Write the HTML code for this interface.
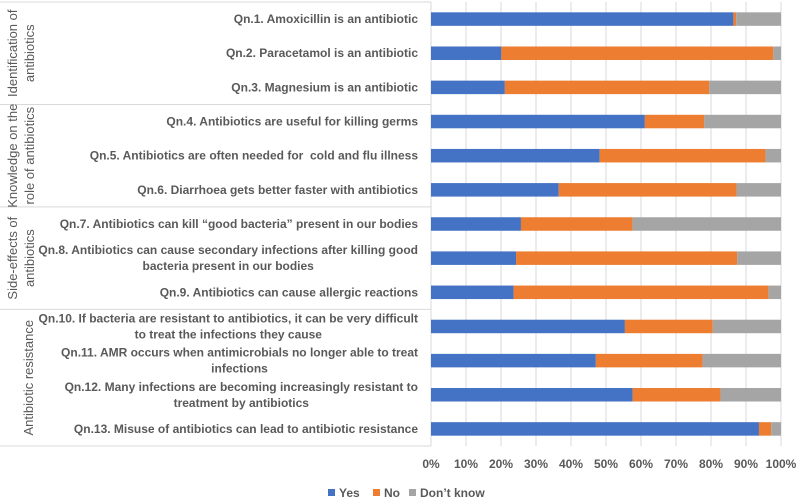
<!DOCTYPE html>
<html><head><meta charset="utf-8"><style>
body{margin:0;background:#fff;}
svg{display:block;font-family:"Liberation Sans",sans-serif;}
text{white-space:pre;}
</style></head><body>
<svg id="chart" width="798" height="499"></svg>
<script>
const categories=["Qn.1. Amoxicillin is an antibiotic","Qn.2. Paracetamol is an antibiotic","Qn.3. Magnesium is an antibiotic","Qn.4. Antibiotics are useful for killing germs","Qn.5. Antibiotics are often needed for  cold and flu illness","Qn.6. Diarrhoea gets better faster with antibiotics","Qn.7. Antibiotics can kill “good bacteria” present in our bodies","Qn.8. Antibiotics can cause secondary infections after killing good|bacteria present in our bodies","Qn.9. Antibiotics can cause allergic reactions","Qn.10. If bacteria are resistant to antibiotics, it can be very difficult|to treat the infections they cause","Qn.11. AMR occurs when antimicrobials no longer able to treat|infections","Qn.12. Many infections are becoming increasingly resistant to|treatment by antibiotics","Qn.13. Misuse of antibiotics can lead to antibiotic resistance"];
const yesVals=[86.4,20.1,21.1,61.1,48.2,36.5,25.7,24.3,23.6,55.4,47.1,57.6,93.7];
const noVals=[0.8,77.7,58.4,17.0,47.4,50.8,31.9,63.2,72.8,25.1,30.5,25.1,3.5];
const dkVals=yesVals.map((y,i)=>100-y-noVals[i]);
const ticks=[0,10,20,30,40,50,60,70,80,90,100];
const groups=[["Identification of","antibiotics"],["Knowledge on the","role of antibiotics"],["Side-effects of","antibiotics"],["Antibiotic resistance"]];
const groupSizes=[3,3,3,4];
const svg=document.getElementById('chart');
const NS="http://www.w3.org/2000/svg";
const x0=431,x1=781,yTop=2,yBot=446;
const rowH=(yBot-yTop)/categories.length;
const xs=v=>x0+(x1-x0)*v/100;
const yc=i=>yTop+rowH*(i+0.5);
function mk(t,a,p){const e=document.createElementNS(NS,t);for(const k in a)e.setAttribute(k,a[k]);(p||svg).appendChild(e);return e;}
ticks.forEach(t=>{
 const l=mk('line',{x1:xs(t),x2:xs(t),y1:yTop,y2:yBot,stroke:'#d9d9d9','stroke-width':1});
 
 
 const tx=mk('text',{x:xs(t),y:468,'text-anchor':'middle','font-size':'12','font-weight':'bold',fill:'#595959'});
 tx.textContent=t+'%';
 
 
});
let start=0;
const bl=[yTop];
groupSizes.forEach(s=>{start+=s;bl.push(yTop+rowH*start);});
bl.forEach(y=>{const l=mk('line',{x1:0,x2:x0,y1:y,y2:y,stroke:'#d9d9d9','stroke-width':1});
 
 });
groups.forEach((g,gi)=>{
 const cy=(bl[gi]+bl[gi+1])/2;
 const t=mk('text',{transform:`translate(${g.length>1?17:33},${cy}) rotate(-90)`,'text-anchor':'middle','font-size':'13',fill:'#595959'});
 
 
 g.forEach((ln,k)=>{const s=mk('tspan',{x:0,y:k*17},t);s.textContent=ln;});
});
categories.forEach((c,i)=>{
 const y=yc(i),h=13.5;
 const parts=[[0,yesVals[i],'#4472c4','yes'],[yesVals[i],noVals[i],'#ed7d31','no'],[yesVals[i]+noVals[i],dkVals[i],'#a5a5a5','dont-know']];
 parts.forEach(p=>{const r=mk('rect',{x:xs(p[0]),y:y-h/2,width:xs(p[0]+p[1])-xs(p[0]),height:h,fill:p[2]});
  
  });
 const lines=c.split('|');
 const t=mk('text',{'font-size':'12','font-weight':'bold',fill:'#595959'});
 
 
 if(lines.length===1){const s=mk('tspan',{x:418,y:y+4,'text-anchor':'end'},t);s.textContent=lines[0];}
 else{const s1=mk('tspan',{x:418,y:y-4,'text-anchor':'end'},t);s1.textContent=lines[0];
  const s2=mk('tspan',{x:300,y:y+12,'text-anchor':'middle'},t);s2.textContent=lines[1];
  const w=s1.getComputedTextLength();s2.setAttribute('x',418-w/2);}
});
const leg=[['Yes','#4472c4',328],['No','#ed7d31',373],['Don’t know','#a5a5a5',409]];
leg.forEach(l=>{const r=mk('rect',{x:l[2],y:489,width:7,height:7,fill:l[1]});
 
 
 const t=mk('text',{x:l[2]+11,y:497,'font-size':'12','font-weight':'bold',fill:'#595959'});t.textContent=l[0];
 
 });
</script>
</body></html>
